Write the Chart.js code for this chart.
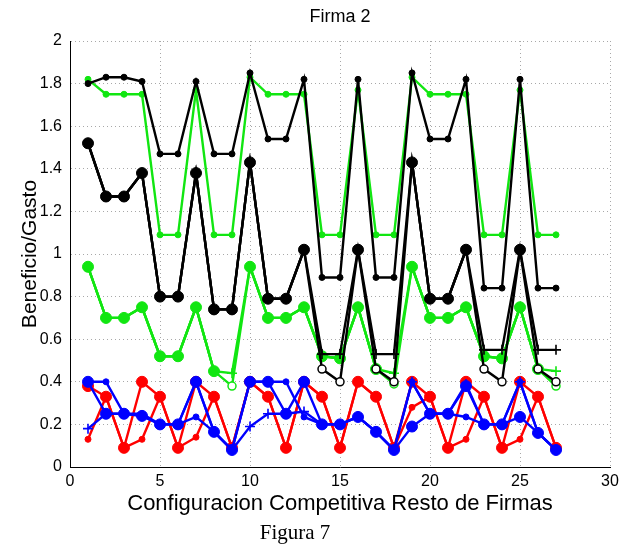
<!DOCTYPE html>
<html>
<head>
<meta charset="utf-8">
<script src="https://cdn.jsdelivr.net/npm/chart.js@4.4.1/dist/chart.umd.min.js"></script>
<style>
  body { margin: 0; background: #fff; }
  #wrap { position: relative; width: 633px; height: 545px; }
  #caption {
    position: absolute; left: 0; width: 590px; top: 520px;
    text-align: center; font: 21px "Liberation Serif", serif; color: #000;
  }
</style>
</head>
<body>
<div id="wrap">
  <canvas id="chart" width="633" height="545"></canvas>
  <div id="caption">Figura 7</div>
</div>
<script>
// configuraciones (eje x)
const configuraciones = [1, 2, 3, 4, 5, 6, 7, 8, 9, 10, 11, 12, 13, 14, 15, 16, 17, 18, 19, 20, 21, 22, 23, 24, 25, 26, 27];
const xTicks = [0, 5, 10, 15, 20, 25, 30];
const yTicks = [0, 0.2, 0.4, 0.6, 0.8, 1, 1.2, 1.4, 1.6, 1.8, 2];

// negro
const negroSup = [1.80, 1.83, 1.83, 1.81, 1.47, 1.47, 1.81, 1.47, 1.47, 1.85, 1.54, 1.54, 1.82, 0.89, 0.89, 1.82, 0.89, 0.89, 1.85, 1.54, 1.54, 1.82, 0.84, 0.84, 1.82, 0.84, 0.84];
const negroMed = [1.52, 1.27, 1.27, 1.38, 0.80, 0.80, 1.38, 0.74, 0.74, 1.43, 0.79, 0.79, 1.02, null, null, 1.02, null, null, 1.43, 0.79, 0.79, 1.02, null, null, 1.02, null, null];
const negroMas = [1.52, 1.27, 1.27, 1.38, 0.80, 0.80, 1.38, 0.74, 0.74, 1.43, 0.79, 0.79, 1.02, 0.53, 0.53, 1.02, 0.53, 0.53, 1.43, 0.79, 0.79, 1.02, 0.55, 0.55, 1.02, 0.55, 0.55];
const negroCirc = [1.52, 1.27, 1.27, 1.38, 0.80, 0.80, 1.38, 0.74, 0.74, 1.43, 0.79, 0.79, 1.02, 0.46, 0.40, 1.02, 0.46, 0.40, 1.43, 0.79, 0.79, 1.02, 0.46, 0.40, 1.02, 0.46, 0.40];

// verde
const verdeSup = [1.82, 1.75, 1.75, 1.75, 1.09, 1.09, 1.77, 1.09, 1.09, 1.83, 1.75, 1.75, 1.75, 1.09, 1.09, 1.77, 1.09, 1.09, 1.83, 1.75, 1.75, 1.75, 1.09, 1.09, 1.77, 1.09, 1.09];
const verdeMed = [0.94, 0.70, 0.70, 0.75, 0.52, 0.52, 0.75, 0.45, null, 0.94, 0.70, 0.70, 0.75, 0.52, 0.51, 0.75, 0.46, null, 0.94, 0.70, 0.70, 0.75, 0.52, 0.51, 0.75, 0.46, null];
const verdeMas = [0.94, 0.70, 0.70, 0.75, 0.52, 0.52, 0.75, 0.45, 0.44, 0.94, 0.70, 0.70, 0.75, 0.52, 0.51, 0.75, 0.46, 0.44, 0.94, 0.70, 0.70, 0.75, 0.52, 0.51, 0.75, 0.46, 0.45];
const verdeCirc = [0.94, 0.70, 0.70, 0.75, 0.52, 0.52, 0.75, 0.45, 0.38, 0.94, 0.70, 0.70, 0.75, 0.52, 0.51, 0.75, 0.46, 0.39, 0.94, 0.70, 0.70, 0.75, 0.52, 0.51, 0.75, 0.46, 0.38];

// azul
const azulMed = [0.40, 0.25, 0.25, 0.24, 0.20, 0.20, 0.40, 0.165, 0.08, 0.40, 0.40, 0.25, 0.40, 0.20, 0.20, 0.235, 0.165, 0.08, 0.19, 0.25, 0.25, 0.38, 0.20, 0.20, 0.235, 0.16, 0.08];
const azulPeq = [0.40, 0.40, 0.25, 0.25, 0.20, 0.20, 0.235, 0.165, 0.08, 0.40, 0.40, 0.40, 0.235, 0.20, 0.20, 0.235, 0.165, 0.08, 0.40, 0.25, 0.25, 0.235, 0.20, 0.20, 0.40, 0.16, 0.08];
const azulMas = [0.18, 0.25, 0.25, 0.24, 0.20, 0.20, 0.40, 0.165, 0.08, 0.19, 0.25, 0.25, 0.26, 0.20, 0.20, 0.235, 0.165, 0.08, 0.40, 0.25, 0.25, 0.39, 0.20, 0.20, 0.40, 0.16, 0.08];

// rojo
const rojoMed = [0.38, 0.33, 0.09, 0.40, 0.33, 0.09, 0.40, 0.33, 0.09, 0.40, 0.33, 0.09, 0.40, 0.33, 0.09, 0.40, 0.33, 0.09, 0.40, 0.33, 0.09, 0.40, 0.33, 0.09, 0.40, 0.33, 0.09];
const rojoPeq = [0.13, 0.33, 0.09, 0.13, 0.33, 0.09, 0.14, 0.33, 0.09, 0.40, 0.33, 0.09, 0.40, 0.33, 0.09, 0.40, 0.33, 0.09, 0.28, 0.33, 0.09, 0.13, 0.33, 0.09, 0.13, 0.33, 0.09];

const NEGRO = '#000000', VERDE = '#11e611', AZUL = '#0000ff', ROJO = '#ff0000';

function serie(valores, color, marca) {
    const ds = {
        data: valores.map(function(v, i) { return { x: configuraciones[i], y: v }; }),
        borderColor: color,
        backgroundColor: color,
        borderWidth: 2.4,
        pointBorderColor: color,
        pointBackgroundColor: color,
        pointBorderWidth: 1,
        spanGaps: false,
        tension: 0
    };
    if (marca === 'peq') { ds.pointRadius = 3; }
    if (marca === 'med') { ds.pointRadius = 5.5; }
    if (marca === 'circ') { ds.pointRadius = 4; ds.pointBackgroundColor = '#fff'; ds.pointBorderWidth = 1.5; }
    if (marca === 'mas') { ds.pointStyle = 'cross'; ds.pointRadius = 5; ds.pointBorderWidth = 1.6; }
    return ds;
}

// first dataset is drawn on top
const datasets = [
    serie(negroMed, NEGRO, 'med'),
    serie(negroCirc, NEGRO, 'circ'),
    serie(negroMas, NEGRO, 'mas'),
    serie(negroSup, NEGRO, 'peq'),
    serie(verdeMed, VERDE, 'med'),
    serie(verdeCirc, VERDE, 'circ'),
    serie(verdeMas, VERDE, 'mas'),
    serie(verdeSup, VERDE, 'peq'),
    serie(azulMed, AZUL, 'med'),
    serie(azulPeq, AZUL, 'peq'),
    serie(azulMas, AZUL, 'mas'),
    serie(rojoMed, ROJO, 'med'),
    serie(rojoPeq, ROJO, 'peq')
];

const tickFont = { family: '"Liberation Sans", Arial, sans-serif', size: 16 };

new Chart(document.getElementById('chart').getContext('2d'), {
    type: 'line',
    data: { datasets: datasets },
    options: {
        responsive: false,
        animation: false,
        devicePixelRatio: 1,
        layout: { padding: { left: 0, right: 23, top: 0, bottom: 28 } },
        plugins: {
            legend: { display: false },
            tooltip: { enabled: false },
            title: {
                display: true,
                text: 'Firma 2',
                fullSize: false,
                color: '#000',
                font: { family: '"Liberation Sans", Arial, sans-serif', size: 18, weight: 'normal' },
                padding: { top: 6.5, bottom: 12.9 }
            }
        },
        scales: {
            x: {
                type: 'linear',
                min: 0,
                max: 30,
                afterBuildTicks: function(scale) { scale.ticks = xTicks.map(function(v) { return { value: v }; }); },
                afterFit: function(scale) { scale.height = 50; },
                ticks: { color: '#000', font: tickFont, padding: 5, maxRotation: 0 },
                grid: { color: '#a8a8a8', lineWidth: 1, drawTicks: false },
                border: { display: true, color: '#000', width: 1, dash: [1, 3] },
                title: {
                    display: true,
                    text: 'Configuracion Competitiva Resto de Firmas',
                    color: '#000',
                    font: { family: '"Liberation Sans", Arial, sans-serif', size: 22 },
                    padding: { top: 0, bottom: 0 }
                }
            },
            y: {
                type: 'linear',
                min: 0,
                max: 2,
                afterBuildTicks: function(scale) { scale.ticks = yTicks.map(function(v) { return { value: v }; }); },
                afterFit: function(scale) { scale.width = 70; },
                ticks: {
                    color: '#000',
                    font: tickFont,
                    padding: 8,
                    callback: function(v) { return String(Number(v.toFixed(1))); }
                },
                grid: { color: '#a8a8a8', lineWidth: 1, drawTicks: false },
                border: { display: true, color: '#000', width: 1, dash: [1, 3] },
                title: {
                    display: true,
                    text: 'Beneficio/Gasto',
                    color: '#000',
                    font: { family: '"Liberation Sans", Arial, sans-serif', size: 21 },
                    padding: { top: 17.4, bottom: 0 }
                }
            }
        }
    }
});
</script>
</body>
</html>
